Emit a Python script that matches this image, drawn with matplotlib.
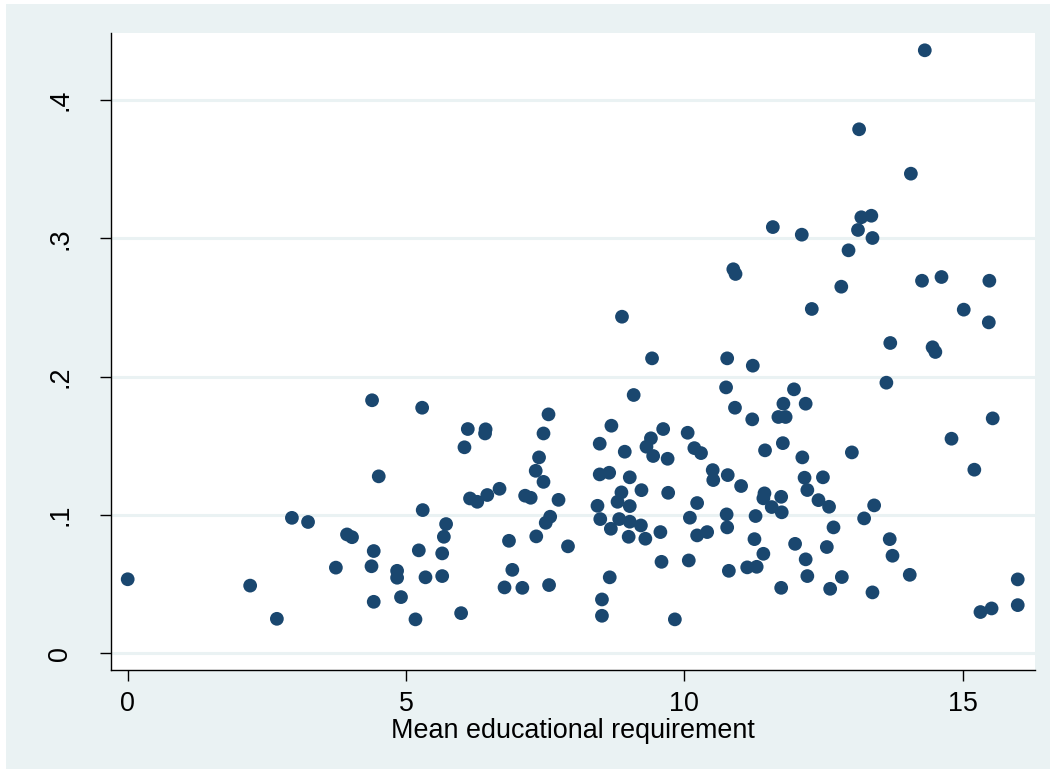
import matplotlib.pyplot as plt
import matplotlib.patches as patches

# mean educational requirement (x) vs share (y)
edu = [0.00, 2.20, 2.68, 2.95, 3.24, 3.74, 3.94, 4.03, 4.39, 4.38,
       4.42, 4.42, 4.51, 4.84, 4.84, 4.91, 5.17, 5.23, 5.29, 5.30,
       5.35, 5.65, 5.65, 5.68, 5.72, 5.99, 6.05, 6.11, 6.15, 6.28,
       6.43, 6.42, 6.46, 6.68, 6.77, 6.85, 6.91, 7.09, 7.14, 7.24,
       7.33, 7.34, 7.39, 7.47, 7.47, 7.51, 7.56, 7.57, 7.59, 7.74,
       7.91, 8.44, 8.48, 8.48, 8.49, 8.52, 8.52, 8.65, 8.66, 8.68,
       8.69, 8.80, 8.83, 8.87, 8.88, 8.93, 9.00, 9.02, 9.02, 9.02,
       9.09, 9.22, 9.23, 9.30, 9.32, 9.40, 9.42, 9.44, 9.57, 9.59,
       9.62, 9.70, 9.71, 9.83, 10.06, 10.08, 10.10, 10.18, 10.23, 10.23,
       10.30, 10.41, 10.51, 10.52, 10.75, 10.76, 10.77, 10.77, 10.78, 10.80,
       10.88, 10.92, 10.91, 11.02, 11.13, 11.22, 11.23, 11.26, 11.28, 11.30,
       11.42, 11.42, 11.44, 11.45, 11.57, 11.59, 11.69, 11.74, 11.74, 11.75,
       11.77, 11.78, 11.82, 11.97, 11.99, 12.11, 12.12, 12.16, 12.18, 12.18,
       12.21, 12.21, 12.29, 12.41, 12.49, 12.56, 12.60, 12.62, 12.68, 12.82,
       12.83, 12.95, 13.01, 13.12, 13.14, 13.18, 13.23, 13.36, 13.38, 13.38,
       13.41, 13.63, 13.69, 13.70, 13.74, 14.05, 14.07, 14.27, 14.32, 14.46,
       14.51, 14.62, 14.80, 15.02, 15.21, 15.32, 15.47, 15.48, 15.52, 15.54,
       15.99, 15.99]
share = [0.0536, 0.0490, 0.0250, 0.0980, 0.0950, 0.0620, 0.0860, 0.0840, 0.1830, 0.0630,
         0.0740, 0.0373, 0.1280, 0.0597, 0.0547, 0.0407, 0.0246, 0.0745, 0.1776, 0.1036,
         0.0550, 0.0559, 0.0723, 0.0843, 0.0935, 0.0291, 0.1490, 0.1622, 0.1120, 0.1096,
         0.1620, 0.1590, 0.1145, 0.1190, 0.0477, 0.0814, 0.0604, 0.0474, 0.1140, 0.1125,
         0.1320, 0.0846, 0.1417, 0.1590, 0.1240, 0.0944, 0.1728, 0.0494, 0.0988, 0.1110,
         0.0774, 0.1067, 0.1516, 0.1294, 0.0971, 0.0390, 0.0272, 0.1306, 0.0550, 0.0901,
         0.1646, 0.1096, 0.0971, 0.1164, 0.2434, 0.1458, 0.0843, 0.1273, 0.1065, 0.0952,
         0.1868, 0.0925, 0.1180, 0.0829, 0.1494, 0.1555, 0.2133, 0.1427, 0.0877, 0.0662,
         0.1622, 0.1407, 0.1161, 0.0246, 0.1595, 0.0672, 0.0981, 0.1484, 0.1087, 0.0853,
         0.1448, 0.0877, 0.1325, 0.1253, 0.1923, 0.1005, 0.0911, 0.2133, 0.1289, 0.0597,
         0.2777, 0.2743, 0.1776, 0.1210, 0.0622, 0.1692, 0.2080, 0.0826, 0.0993, 0.0626,
         0.0720, 0.1121, 0.1157, 0.1468, 0.1058, 0.3082, 0.1709, 0.1132, 0.0474, 0.1020,
         0.1520, 0.1805, 0.1709, 0.1909, 0.0792, 0.3027, 0.1417, 0.1270, 0.1805, 0.0680,
         0.1181, 0.0559, 0.2490, 0.1108, 0.1273, 0.0769, 0.1060, 0.0467, 0.0911, 0.2651,
         0.0552, 0.2914, 0.1453, 0.3061, 0.3789, 0.3153, 0.0976, 0.3164, 0.3003, 0.0441,
         0.1070, 0.1957, 0.0826, 0.2244, 0.0706, 0.0568, 0.3468, 0.2694, 0.4360, 0.2213,
         0.2179, 0.2721, 0.1552, 0.2485, 0.1328, 0.0299, 0.2393, 0.2694, 0.0325, 0.1699,
         0.0535, 0.0349]

xticks = [0, 5, 10, 15]
yticks = [0, 0.1, 0.2, 0.3, 0.4]
yticklabels = ['0', '.1', '.2', '.3', '.4']

bg = '#eaf2f3'
navy = '#1a476f'

plt.rcParams['font.family'] = ['Liberation Sans', 'DejaVu Sans']

fig = plt.figure(figsize=(10.5, 7.69), dpi=100)
fig.patch.set_facecolor('white')
fig.patches.append(patches.Rectangle((6 / 1050, 0), 1 - 6 / 1050, 1 - 4 / 769,
                                     transform=fig.transFigure, facecolor=bg,
                                     edgecolor='none', zorder=-5))

ax = fig.add_axes([111 / 1050, 99 / 769, 924 / 1050, 637 / 769])
ax.set_facecolor('white')
ax.scatter(edu, share, s=98, color=navy, edgecolors='none', zorder=3)

ax.set_xlim(-0.30, 16.30)
ax.set_ylim(-0.012, 0.4485)
ax.set_xticks(xticks)
ax.set_yticks(yticks)
ax.set_yticklabels(yticklabels, rotation=90, va='center')
ax.yaxis.grid(True, color=bg, linewidth=2.2)
ax.set_axisbelow(True)

for side in ['top', 'right']:
    ax.spines[side].set_visible(False)
ax.spines['left'].set_linewidth(1.0)
ax.spines['bottom'].set_linewidth(1.0)
ax.tick_params(axis='both', direction='out', length=8, width=1.0,
               labelsize=19.4, colors='black')
ax.tick_params(axis='x', pad=7)
ax.tick_params(axis='y', pad=19)

ax.set_xlabel('Mean educational requirement', fontsize=19.4, labelpad=1)

fig.savefig('out.png', dpi=100)
